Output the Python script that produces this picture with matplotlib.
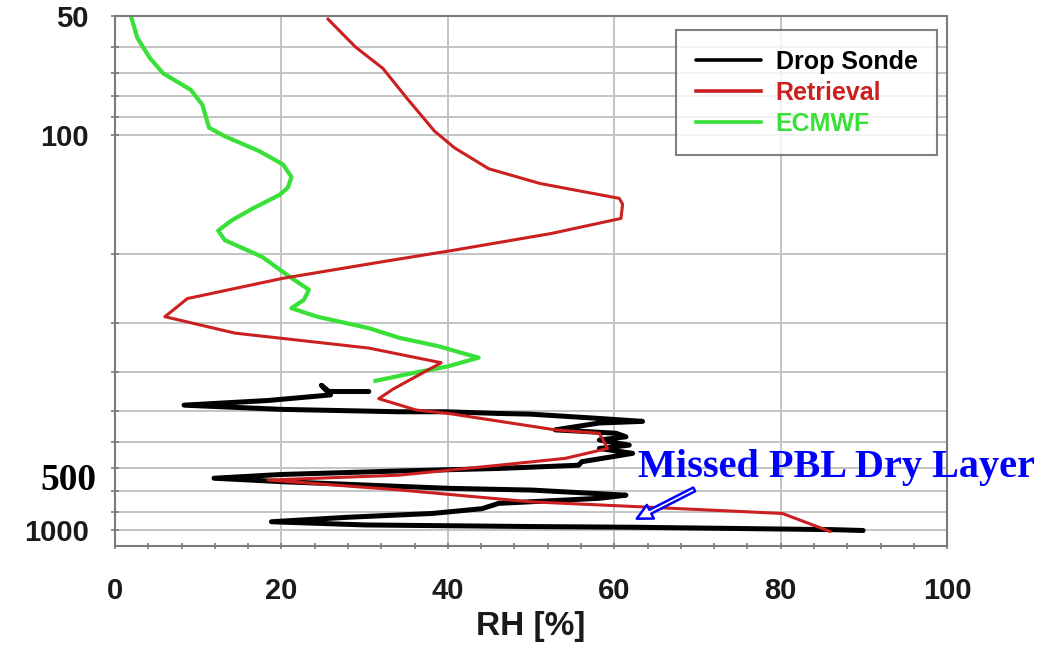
"""
RH profile: drop sonde vs retrieval vs ECMWF.
"""

import matplotlib
matplotlib.use("Agg")
import matplotlib.pyplot as plt
from matplotlib.ticker import FixedLocator, MultipleLocator, NullFormatter

# pressure levels (hPa) and RH (%)
sonde_p = [447, 447, 431, 456, 471, 484, 496, 503, 503, 508, 510, 523, 532, 537,
           559, 570, 582, 593, 611, 623, 641, 673, 687, 700, 710, 725, 741, 756,
           777, 786, 794, 818, 833, 858, 885, 910, 918, 930, 955, 973, 982, 986,
           1000, 1005]
sonde_rh = [30.5, 25.7, 24.8, 25.9, 18.4, 8.3, 20.0, 34.1, 39.8, 46.1, 49.9, 58.2,
            63.4, 58.2, 52.9, 60.2, 61.4, 58.2, 61.8, 58.2, 62.2, 56.1, 55.7, 46.1,
            34.5, 20.0, 11.9, 20.0, 34.1, 40.2, 50.1, 61.4, 58.2, 46.1, 44.1, 38.1,
            34.1, 28.1, 18.8, 30.1, 49.9, 62.2, 86.3, 89.9]

retr_p = [51, 60, 68, 81, 98, 108, 122, 133, 145, 150, 163, 178, 196, 209, 231,
          260, 289, 318, 347, 378, 441, 466, 498, 508, 559, 570, 623, 660, 687,
          728, 749, 793, 850, 875, 910, 1010]
retr_rh = [25.6, 28.9, 32.2, 35.1, 38.4, 40.8, 44.9, 51.1, 60.6, 61.0, 60.8, 52.4,
           40.8, 32.6, 20.2, 8.7, 6.0, 14.4, 30.5, 39.2, 33.4, 31.7, 36.2, 40.1,
           52.9, 58.2, 59.2, 54.1, 46.1, 34.1, 18.4, 34.1, 49.9, 63.0, 80.2, 85.9]

ecmwf_p = [50, 57, 64, 70, 77, 84, 96, 101, 110, 119, 128, 136, 142, 154, 165,
           175, 185, 204, 229, 247, 262, 275, 289, 309, 327, 343, 367, 386, 401, 420]
ecmwf_rh = [1.9, 2.7, 4.2, 5.8, 9.1, 10.5, 11.3, 13.2, 17.3, 20.2, 21.2, 20.8,
            19.8, 16.5, 14.0, 12.4, 13.2, 17.7, 21.0, 23.3, 22.7, 21.2, 24.3, 30.5,
            34.2, 38.8, 43.7, 40.0, 35.9, 31.3]

y_labels = [50, 100, 1000]
y_minor = [60, 70, 80, 90, 200, 300, 400, 500, 600, 700, 800, 900]

SANS = "Liberation Sans"
SERIF = "Liberation Serif"
GREEN = "#38e038"
RED = "#cc1f1f"

fig = plt.figure(figsize=(10.51, 6.49), dpi=100)
ax = fig.add_axes([0.1094, 0.1587, 0.7918, 0.8171])

ax.plot(sonde_rh, sonde_p, color="black", lw=3.6, solid_capstyle="round",
        solid_joinstyle="round", label="Drop Sonde", zorder=3)
ax.plot(retr_rh, retr_p, color=RED, lw=2.2, label="Retrieval", zorder=4)
ax.plot(ecmwf_rh, ecmwf_p, color=GREEN, lw=3.0, solid_joinstyle="round",
        label="ECMWF", zorder=2)

ax.set_yscale("log")
ax.set_ylim(1100, 50)
ax.set_xlim(0, 100)
ax.yaxis.set_major_locator(FixedLocator(y_labels))
ax.yaxis.set_minor_locator(FixedLocator(y_minor))
ax.yaxis.set_minor_formatter(NullFormatter())
ax.set_yticklabels([str(v) for v in y_labels])
ax.xaxis.set_major_locator(MultipleLocator(20))
ax.xaxis.set_minor_locator(MultipleLocator(4))

ax.grid(True, which="both", axis="y", color="#c4c4c4", lw=1.4)
ax.grid(True, which="major", axis="x", color="#c4c4c4", lw=1.4)
ax.set_axisbelow(True)

for s in ax.spines.values():
    s.set_color("#7a7a7a")
    s.set_linewidth(1.5)

ax.tick_params(which="both", direction="inout", color="#7a7a7a", width=1.2)
ax.tick_params(axis="y", which="both", length=6, pad=16)
ax.tick_params(axis="x", which="both", length=5, pad=20)
for lab in ax.get_xticklabels() + ax.get_yticklabels():
    lab.set_fontfamily(SANS)
    lab.set_fontweight("bold")
    lab.set_fontsize(21)
    lab.set_color("#1a1a1a")

ax.set_xlabel("RH [%]", fontfamily=SANS, fontweight="bold", fontsize=24,
              color="#1a1a1a", labelpad=4)

leg = ax.legend(loc="upper right", bbox_to_anchor=(0.988, 0.973), frameon=True,
                fancybox=False, handlelength=2.6, labelspacing=0.28,
                borderpad=0.78, handletextpad=0.6, borderaxespad=0,
                prop={"family": SANS, "weight": "bold", "size": 18})
leg.get_frame().set_edgecolor("#606060")
leg.get_frame().set_linewidth(1.5)
for txt, col in zip(leg.get_texts(), ["black", RED, GREEN]):
    txt.set_color(col)
for h in leg.get_lines():
    h.set_linewidth(2.6)

# stray pressure label and annotation pasted onto the original figure
fig.text(0.0913, 0.2589, "500", ha="right", va="center", fontfamily=SERIF,
         fontweight="bold", fontsize=27, color="black")
fig.text(0.607, 0.265, "Missed PBL Dry Layer", ha="left", va="baseline",
         fontfamily=SERIF, fontweight="bold", fontsize=29, color="#0000ff")
ax.annotate("", xy=(62.4, 945), xytext=(69.9, 785),
            arrowprops=dict(arrowstyle="simple,head_length=1.1,head_width=1.1,tail_width=0.3",
                            fc="white", ec="#0000ff", lw=1.8),
            zorder=6)

fig.savefig("out.png", dpi=100)
